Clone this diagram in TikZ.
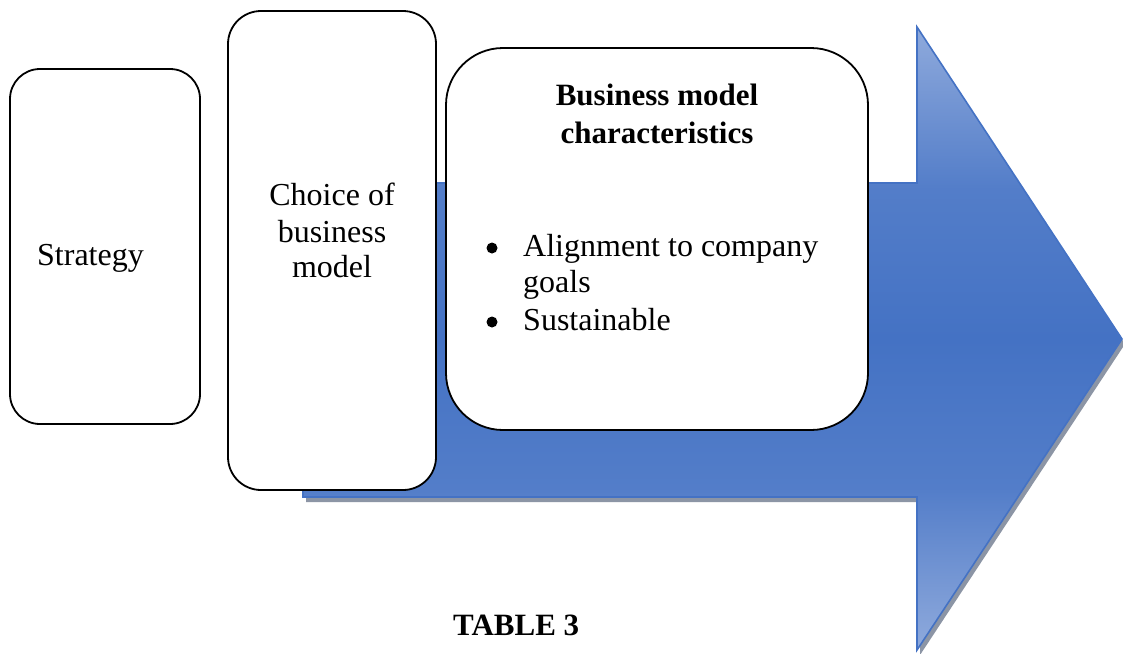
\documentclass[tikz,border=0pt]{standalone}
\usepackage{fontspec}
\setmainfont{Liberation Serif}
\definecolor{arrowblue}{HTML}{4472C4}
\definecolor{arrowlight}{HTML}{8FAADC}
\definecolor{shadowgray}{HTML}{6F7A8E}
% light at both ends, a broad dark band in the middle
\pgfdeclareverticalshading{arrowfade}{100bp}{%
  color(0bp)=(arrowlight); color(25bp)=(arrowlight);
  color(38bp)=(arrowblue!80!arrowlight); color(50bp)=(arrowblue);
  color(62bp)=(arrowblue!80!arrowlight);
  color(75bp)=(arrowlight); color(100bp)=(arrowlight)}
\begin{document}
\begin{tikzpicture}[x=1pt,y=-1pt,
  card/.style={draw=black, line width=1.8pt, fill=white, inner sep=0pt},
  label/.style={inner sep=0pt, anchor=base, font=\fontsize{32}{36}\selectfont},
  heading/.style={inner sep=0pt, anchor=base, font=\fontsize{31}{36}\selectfont\bfseries},
  dot/.style={circle, fill=black, inner sep=0pt, minimum size=11pt},
  arrowshape/.style={draw=arrowblue, line width=1.6pt, line join=miter, shading=arrowfade},
  sh/.style={shift={(3,5)}}]
\useasboundingbox (0,0) rectangle (1123,653);

% corners of the block arrow
\coordinate (bodyTL) at (303,183);
\coordinate (neckT)  at (917,183);
\coordinate (headT)  at (917,27);
\coordinate (tip)    at (1122,339);
\coordinate (headB)  at (917,650);
\coordinate (neckB)  at (917,497);
\coordinate (bodyBL) at (303,497);

% drop shadow of the arrow, offset down and to the right
\fill[shadowgray, opacity=0.8] ([sh]bodyTL) -- ([sh]neckT) -- ([sh]headT) -- ([sh]tip)
  -- ([sh]headB) -- ([sh]neckB) -- ([sh]bodyBL) -- cycle;

% the arrow itself
\path[arrowshape] (bodyTL) -- (neckT) -- (headT) -- (tip) -- (headB) -- (neckB) -- (bodyBL) -- cycle;

% the three rounded cards
\node[card, rounded corners=30, minimum width=190, minimum height=355] (strategy) at (105,246.5) {};
\node[card, rounded corners=33, minimum width=208, minimum height=479] (choice) at (332,250.5) {};
\node[card, rounded corners=57, minimum width=422, minimum height=382] (traits) at (657,239) {};

% card texts
\node[label] (strategyText) at (90.5,265) {Strategy};

\node[label] (choiceA) at (332,205) {Choice of};
\node[label] (choiceB) at (332,242) {business};
\node[label] (choiceC) at (332,277) {model};

\node[heading] (traitsA) at (657,105) {Business model};
\node[heading] (traitsB) at (657,143) {characteristics};

\node[dot] (bulletA) at (492,248) {};
\node[label, anchor=base west] (itemA) at (523,256) {Alignment to company};
\node[label, anchor=base west] (itemA2) at (523,292) {goals};
\node[dot] (bulletB) at (492,322) {};
\node[label, anchor=base west] (itemB) at (523,330) {Sustainable};

% caption
\node[heading, anchor=base west] (caption) at (453,635) {TABLE 3};
\end{tikzpicture}
\end{document}
